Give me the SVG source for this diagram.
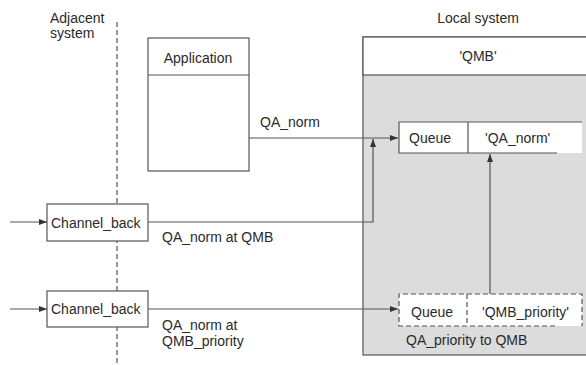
<svg xmlns="http://www.w3.org/2000/svg" width="586" height="365" viewBox="0 0 586 365">
<style>
text{font-family:"Liberation Sans",Arial,sans-serif;font-size:14px;fill:#2a2a2a}
.box{fill:#fff;stroke:#555;stroke-width:1.2}
.ln{fill:none;stroke:#555;stroke-width:1.2}
.dash{fill:none;stroke:#555;stroke-width:1.2;stroke-dasharray:5,3}
</style>
<defs>
<marker id="ah" viewBox="0 0 8 8" refX="8" refY="4" markerWidth="8" markerHeight="8" markerUnits="userSpaceOnUse" orient="auto">
<path d="M0,1 L8,4 L0,7 z" fill="#333"/>
</marker>
</defs>
<g id="labels">
<text x="50" y="23">Adjacent</text>
<text x="50" y="38">system</text>
<text x="478" y="23" text-anchor="middle">Local system</text>
</g>
<line id="boundary" x1="117" y1="22" x2="117" y2="365" class="dash"/>
<g id="local-system">
<rect x="363" y="37" width="230" height="318" fill="#dcdcdc" stroke="#555" stroke-width="1.2"/>
<rect x="363" y="37" width="230" height="38" fill="#fff" stroke="#555" stroke-width="1.2"/>
<text x="478" y="61" text-anchor="middle">'QMB'</text>
</g>
<g id="application">
<rect x="148" y="38" width="101" height="133" class="box"/>
<line x1="148" y1="75" x2="249" y2="75" class="ln"/>
<text x="198" y="63" text-anchor="middle">Application</text>
</g>
<g id="channel-back-1">
<rect x="47" y="204" width="101" height="37" class="box"/>
<text x="51" y="228">Channel_back</text>
</g>
<g id="channel-back-2">
<rect x="47" y="291" width="101" height="36" class="box"/>
<text x="51" y="314">Channel_back</text>
</g>
<g id="queue-qa-norm">
<rect x="399" y="122" width="183" height="31" fill="#fff"/>
<path d="M582,122 H399 V153 H557 M468,122 V153" class="ln"/>
<text x="409" y="143">Queue</text>
<text x="485" y="143">'QA_norm'</text>
</g>
<g id="queue-qmb-priority">
<rect x="399" y="294" width="183" height="32" fill="#fff"/>
<path d="M555,326 H399 V294 H582 V326 M467,294 V326" class="dash"/>
<text x="411" y="317">Queue</text>
<text x="482" y="317">'QMB_priority'</text>
<text x="406" y="345">QA_priority to QMB</text>
</g>
<g id="connectors">
<line x1="249" y1="138" x2="398" y2="138" class="ln" marker-end="url(#ah)"/>
<path d="M148,222 H373 V139" class="ln" marker-end="url(#ah)"/>
<line x1="10" y1="222" x2="47" y2="222" class="ln" marker-end="url(#ah)"/>
<line x1="10" y1="309" x2="47" y2="309" class="ln" marker-end="url(#ah)"/>
<line x1="148" y1="309" x2="398" y2="309" class="ln" marker-end="url(#ah)"/>
<line x1="490" y1="294" x2="490" y2="154" class="ln" marker-end="url(#ah)"/>
<text x="260" y="127">QA_norm</text>
<text x="162" y="242">QA_norm at QMB</text>
<text x="162" y="330">QA_norm at</text>
<text x="162" y="346">QMB_priority</text>
</g>
</svg>
